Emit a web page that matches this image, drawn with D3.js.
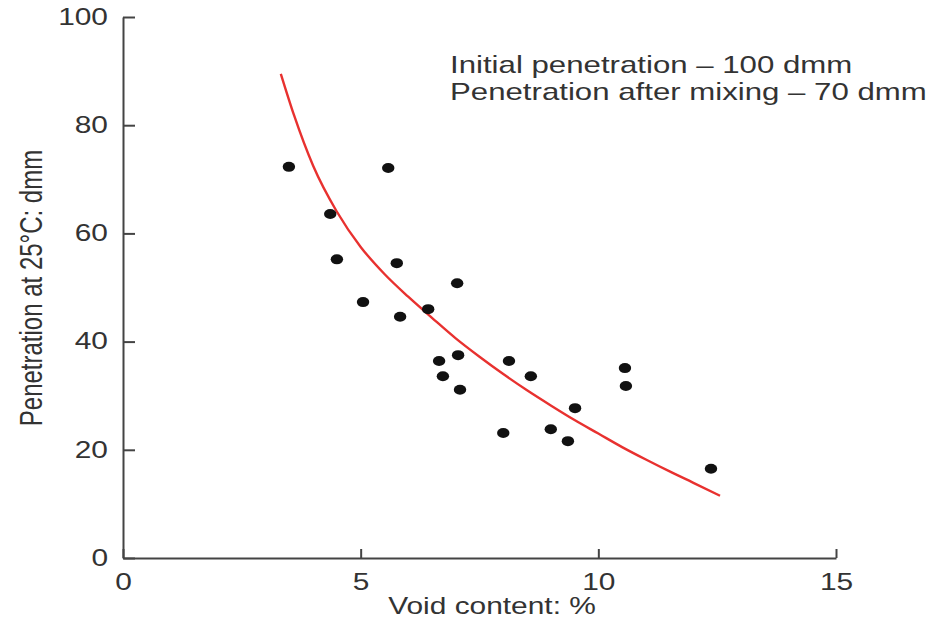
<!DOCTYPE html>
<html>
<head>
<meta charset="utf-8">
<script src="https://cdn.jsdelivr.net/npm/d3@7"></script>
<style>
  body { margin: 0; background: #fff; }
  text { font-family: "Liberation Sans", Arial, sans-serif; fill: #333; }
</style>
</head>
<body>
<div id="chart"></div>
<script>
// measured points (void content %, penetration dmm)
var voidContent = [3.49, 4.36, 4.50, 5.05, 5.58, 5.76, 5.83, 6.42, 7.03, 6.65, 6.73, 7.05, 7.09,
                   8.12, 8.58, 8.00, 9.00, 9.36, 9.51, 10.56, 10.58, 12.37];
var penetration = [72.3, 63.6, 55.2, 47.3, 72.1, 54.5, 44.6, 46.0, 50.8, 36.4, 33.6, 37.5, 31.1,
                   36.4, 33.6, 23.1, 23.8, 21.6, 27.7, 35.1, 31.8, 16.5];

// fitted curve
var curveX = [3.32, 3.6, 4.0, 4.5, 5.0, 5.5, 6.0, 6.5, 7.0, 7.5, 8.0, 8.5, 9.0, 9.5, 10.0, 10.5, 11.0, 11.5, 12.0, 12.56];
var curveY = [89.5, 81.8, 72.5, 64.0, 57.5, 52.5, 48.3, 44.4, 40.6, 37.2, 34.0, 31.0, 28.2, 25.5, 23.0, 20.5, 18.2, 16.0, 13.9, 11.5];

var xTicks = [0, 5, 10, 15];
var yTicks = [0, 20, 40, 60, 80, 100];
var notes = ["Initial penetration \u2013 100 dmm", "Penetration after mixing \u2013 70 dmm"];

var W = 934, H = 622, SX = 1.3;

var svg = d3.select("#chart").append("svg")
    .attr("width", W)
    .attr("height", H);

var x = d3.scaleLinear().domain([0, 15]).range([123, 836]);
var y = d3.scaleLinear().domain([0, 100]).range([558, 17]);

// axes, ticks pointing inward
var gx = svg.append("g")
    .attr("transform", "translate(0,558)")
    .call(d3.axisBottom(x).tickValues(xTicks).tickSize(-9).tickPadding(16).tickSizeOuter(0));
var gy = svg.append("g")
    .attr("transform", "translate(123,0)")
    .call(d3.axisLeft(y).tickValues(yTicks).tickSize(-12).tickPadding(15).tickSizeOuter(0));

[gx, gy].forEach(function(g) {
    g.select(".domain").attr("stroke", "#444").attr("stroke-width", 2);
    g.selectAll(".tick line").attr("stroke", "#444").attr("stroke-width", 2);
    g.selectAll(".tick text")
     .attr("font-size", 23)
     .attr("fill", "#333")
     .attr("font-family", "Liberation Sans, Arial, sans-serif")
     .each(function() {
         var t = d3.select(this);
         var tx = +t.attr("x") || 0, ty = +t.attr("y") || 0;
         t.attr("transform", "translate(" + tx + "," + ty + ") scale(" + SX + ",1)")
          .attr("x", 0).attr("y", 0);
     });
});

// fitted curve
var pts = curveX.map(function(v, i) { return [v, curveY[i]]; });
svg.append("path")
    .datum(pts)
    .attr("fill", "none")
    .attr("stroke", "#e8312f")
    .attr("stroke-width", 2.4)
    .attr("d", d3.line()
        .x(function(d) { return x(d[0]); })
        .y(function(d) { return y(d[1]); })
        .curve(d3.curveMonotoneX));

// data points
svg.selectAll("ellipse.pt")
    .data(voidContent)
    .enter().append("ellipse")
    .attr("class", "pt")
    .attr("cx", function(d) { return x(d); })
    .attr("cy", function(d, i) { return y(penetration[i]); })
    .attr("rx", 6.2)
    .attr("ry", 5)
    .attr("fill", "#111");

// annotation
svg.selectAll("text.note")
    .data(notes)
    .enter().append("text")
    .attr("class", "note")
    .attr("transform", function(d, i) { return "translate(450," + (73 + i * 27) + ") scale(" + SX + ",1)"; })
    .attr("font-size", 24)
    .text(function(d) { return d; });

// axis titles
svg.append("text")
    .attr("transform", "translate(492,614) scale(" + SX + ",1)")
    .attr("text-anchor", "middle")
    .attr("font-size", 23)
    .text("Void content: %");

svg.append("text")
    .attr("transform", "translate(42,288) scale(" + SX + ",1) rotate(-90)")
    .attr("text-anchor", "middle")
    .attr("font-size", 24)
    .text("Penetration at 25\u00b0C: dmm");
</script>
</body>
</html>
